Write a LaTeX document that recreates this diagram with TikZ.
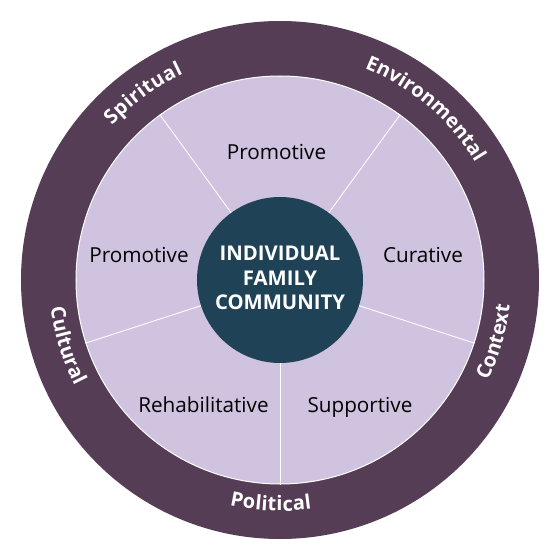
\documentclass[tikz,border=0pt]{standalone}
\usepackage{fontspec}
\setmainfont{Open Sans}
\usetikzlibrary{decorations.text}
\definecolor{ringc}{RGB}{85,61,86}
\definecolor{lavc}{RGB}{208,195,224}
\definecolor{hubc}{RGB}{31,66,87}
\newcommand\ringfont{\fontsize{20}{20}\selectfont\bfseries}
\begin{document}
\begin{tikzpicture}[x=1pt,y=1pt,
  sector/.style={font=\fontsize{20.7}{21}\selectfont, text=black, anchor=base, inner sep=0pt},
  hubtext/.style={font=\fontsize{20.3}{21}\selectfont\bfseries, text=white, anchor=base, inner sep=0pt},
  divider/.style={draw=white, line width=0.9pt},
  ringtext/.style={decorate, decoration={text along path, text align=fit to path, text color=white, text={|\ringfont|#1}}}
]
\useasboundingbox (-280,-280) rectangle (280,280);
% outer ring
\node[circle, fill=ringc, minimum size=518, inner sep=0pt] (ring) at (0,0) {};
% inner lavender disc
\node[circle, fill=lavc, draw=white, line width=1pt, minimum size=408, inner sep=0pt] (disc) at (0,0) {};
% centre hub
\node[circle, fill=hubc, minimum size=166, inner sep=0pt] (hub) at (0,0) {};
% dividers
\foreach \a in {54,126,198,270,342}{
  \draw[divider] (hub.\a) -- (disc.\a);
}
% sector labels
\node[sector] (s1) at (-3.5,121) {Promotive};
\node[sector] (s2) at (-141,18) {Promotive};
\node[sector] (s3) at (143,18) {Curative};
\node[sector] (s4) at (-76.5,-132) {Rehabilitative};
\node[sector] (s5) at (80,-132) {Supportive};
% hub text
\node[hubtext] (h1) at (0,20) {INDIVIDUAL};
\node[hubtext] (h2) at (0,-5) {FAMILY};
\node[hubtext] (h3) at (0,-29) {COMMUNITY};
% ring labels
\path[ringtext=Spiritual] (137.4:228) arc[start angle=137.4, end angle=115.1, radius=228];
\path[ringtext=Environmental] (68.2:228) arc[start angle=68.2, end angle=31.2, radius=228];
\path[ringtext=Cultural] (186.9:231) arc[start angle=186.9, end angle=207.4, radius=231];
\path[ringtext=Political] (257.4:231) arc[start angle=257.4, end angle=277.9, radius=231];
\path[ringtext=Context] (334.1:231) arc[start angle=334.1, end angle=353.6, radius=231];
\end{tikzpicture}
\end{document}
